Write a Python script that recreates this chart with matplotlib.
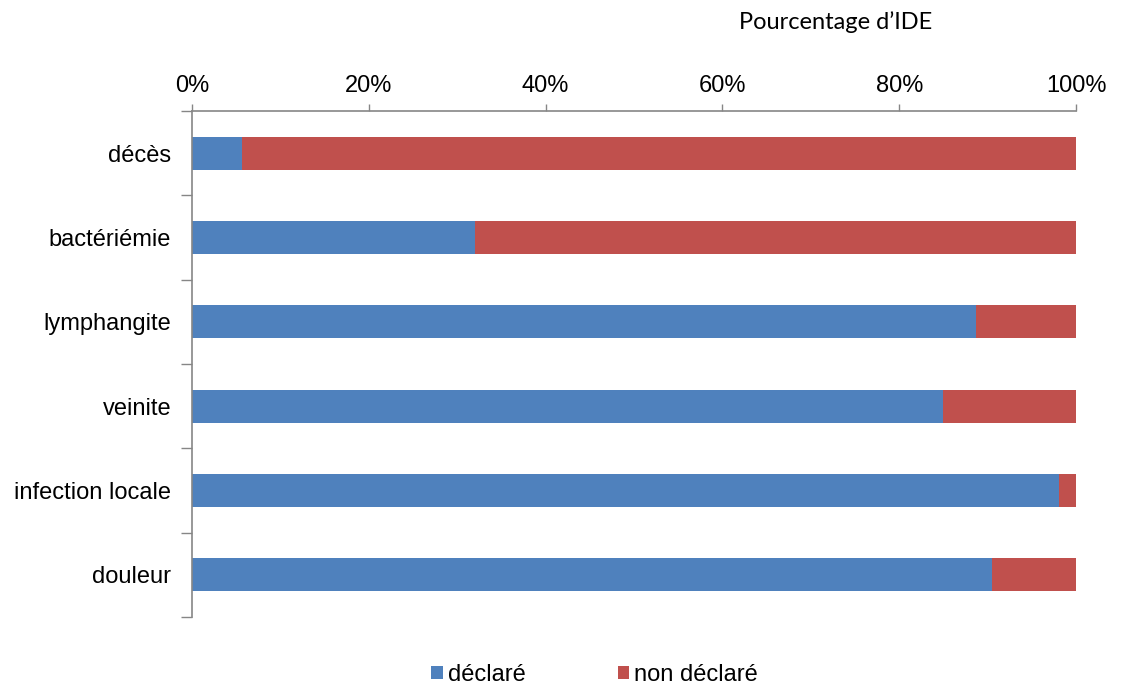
import matplotlib
matplotlib.use("Agg")
import matplotlib.pyplot as plt
from matplotlib.patches import Patch
import numpy as np

categories = ["décès", "bactériémie", "lymphangite", "veinite", "infection locale", "douleur"]
declare = [5.6, 32.0, 88.7, 84.9, 98.1, 90.5]
non_declare = [100 - v for v in declare]
xticks = [0, 20, 40, 60, 80, 100]
xtick_labels = ["0%", "20%", "40%", "60%", "80%", "100%"]
series_names = ["déclaré", "non déclaré"]
axis_title = "Pourcentage d\u2019IDE"

BLUE = "#4F81BD"
RED = "#C0504D"
GREY = "#868686"

plt.rcParams["font.family"] = ["Liberation Sans", "DejaVu Sans"]

fig = plt.figure(figsize=(11.26, 6.86), dpi=100)
ax = fig.add_axes([192 / 1126, 1 - 617 / 686, (1076 - 192) / 1126, (617 - 111) / 686])

y = np.arange(len(categories))
ax.barh(y, declare, height=0.39, color=BLUE, label=series_names[0])
ax.barh(y, non_declare, left=declare, height=0.39, color=RED, label=series_names[1])

ax.set_xlim(0, 100)
ax.set_ylim(len(categories) - 0.5, -0.5)

ax.xaxis.tick_top()
ax.set_xticks(xticks)
ax.set_xticklabels(xtick_labels, fontsize=17)
ax.tick_params(axis="x", direction="out", length=5, width=1, color=GREY, pad=5)

ax.set_yticks(y)
ax.set_yticklabels(categories, fontsize=17)
ax.set_yticks(np.arange(len(categories) + 1) - 0.5, minor=True)
ax.tick_params(axis="y", which="major", length=0, pad=15)
ax.tick_params(axis="y", which="minor", direction="out", length=8, width=1, color=GREY)

for side in ("right", "bottom"):
    ax.spines[side].set_visible(False)
for side in ("left", "top"):
    ax.spines[side].set_color(GREY)
    ax.spines[side].set_linewidth(1.2)

fig.text(836 / 1126, 1 - 22 / 686, axis_title, ha="center", va="center",
         fontsize=17, family=["Lato", "DejaVu Sans"])

handles = [Patch(facecolor=BLUE, edgecolor="none"), Patch(facecolor=RED, edgecolor="none")]
fig.legend(handles, series_names, loc="center", bbox_to_anchor=(0.528, 1 - 675 / 686),
           ncol=2, frameon=False, fontsize=17, handlelength=0.5, handleheight=0.5,
           handletextpad=0.2, columnspacing=3.9, borderpad=0.2)

fig.savefig("out.png", dpi=100)
